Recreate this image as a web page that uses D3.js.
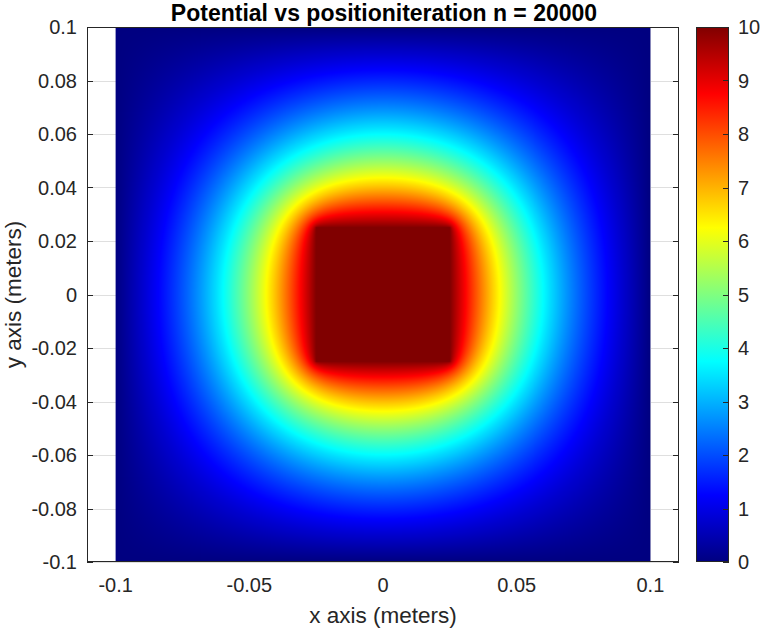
<!DOCTYPE html>
<html><head><meta charset="utf-8">
<script src="https://cdn.jsdelivr.net/npm/d3@7"></script>
<style>
body{margin:0;background:#fff}
svg{display:block}
text{font-family:"Liberation Sans",Arial,Helvetica,sans-serif;fill:#262626}
</style>
</head><body>
<svg id="chart" width="760" height="630"></svg>
<script>
// ---------- data ----------
const titleText = "Potential vs positioniteration n = 20000";
const xLabelText = "x axis (meters)";
const yLabelText = "y axis (meters)";
const xTicks = [-0.1, -0.05, 0, 0.05, 0.1];
const xTickLabels = ["-0.1", "-0.05", "0", "0.05", "0.1"];
const yTicks = [-0.1, -0.08, -0.06, -0.04, -0.02, 0, 0.02, 0.04, 0.06, 0.08, 0.1];
const yTickLabels = ["-0.1", "-0.08", "-0.06", "-0.04", "-0.02", "0", "0.02", "0.04", "0.06", "0.08", "0.1"];
const colorTicks = [0, 1, 2, 3, 4, 5, 6, 7, 8, 9, 10];
const colorTickLabels = ["0", "1", "2", "3", "4", "5", "6", "7", "8", "9", "10"];
const gridHalf = 0.1;        // simulated region is [-0.1, 0.1] in x and y (meters)
const plateHalf = 0.025;     // square conductor half-width (meters)
const plateV = 10;           // conductor potential
const wallV = 0;             // outer wall potential
const gridStep = 0.0005;     // mesh spacing (meters)
const iterations = 20000;    // Jacobi iterations (from the title)
const colorDomain = [0, 10];
const jetStops = [0, 1.25, 3.75, 6.25, 8.75, 10];
const jetColors = ["#000080", "#0000ff", "#00ffff", "#ffff00", "#ff0000", "#800000"];

// ---------- Jacobi relaxation of Laplace's equation (one symmetric quadrant) ----------
const M = Math.round(gridHalf / gridStep);
const P = Math.round(plateHalf / gridStep);
const S = M + 1;
let A = new Float64Array(S * S), B = new Float64Array(S * S);
for (let j = 0; j <= M; j++) for (let i = 0; i <= M; i++) {
  const k = j * S + i;
  let v = 0;
  if (i === M || j === M) v = wallV;
  else if (i <= P && j <= P) v = plateV;
  A[k] = v; B[k] = v;
}
for (let it = 0; it < iterations; it++) {
  for (let j = 0; j < M; j++) {
    const i0 = j <= P ? P + 1 : 0;
    const row = j * S;
    for (let i = i0; i < M; i++) {
      const k = row + i;
      const l = i > 0 ? A[k - 1] : A[k + 1];
      const d = j > 0 ? A[k - S] : A[k + S];
      B[k] = 0.25 * (l + A[k + 1] + d + A[k + S]);
    }
  }
  const t = A; A = B; B = t;
}
const Vq = A;
const field = (gi, gj) => Vq[Math.abs(gj - M) * S + Math.abs(gi - M)];
const N = 2 * M; // global index range 0..N

// ---------- layout ----------
const svg = d3.select("#chart");
const box = {left: 87, right: 679, top: 27, bottom: 562};
const xHalf = 0.1107;
const x = d3.scaleLinear().domain([-xHalf, xHalf]).range([box.left, box.right]);
const y = d3.scaleLinear().domain([-0.1, 0.1]).range([box.bottom, box.top]);
const jet = d3.scaleLinear().domain(jetStops).range(jetColors).interpolate(d3.interpolateRgb).clamp(true);
const cbar = {left: 696, right: 729};
const cy = d3.scaleLinear().domain(colorDomain).range([box.bottom, box.top]);
const axisColor = "#262626";
const gridColor = "#dfdfdf";

// grid lines (behind the image)
const gridG = svg.append("g");
yTicks.forEach(t => gridG.append("line")
  .attr("x1", box.left).attr("x2", box.right)
  .attr("y1", Math.round(y(t)) + 0.5).attr("y2", Math.round(y(t)) + 0.5)
  .attr("stroke", gridColor).attr("stroke-width", 1));
xTicks.forEach(t => gridG.append("line")
  .attr("y1", box.top).attr("y2", box.bottom)
  .attr("x1", Math.round(x(t)) + 0.5).attr("x2", Math.round(x(t)) + 0.5)
  .attr("stroke", gridColor).attr("stroke-width", 1));

// heat map image
const ix0 = x(-gridHalf), ix1 = x(gridHalf);
const iy0 = y(gridHalf), iy1 = y(-gridHalf);
const W = Math.round(ix1 - ix0), H = Math.round(iy1 - iy0);
const cv = document.createElement("canvas");
cv.width = W; cv.height = H;
const ctx = cv.getContext("2d");
const img = ctx.createImageData(W, H);
const LUT = 1024;
const lut = [];
for (let i = 0; i < LUT; i++) {
  const c = d3.color(jet(colorDomain[0] + (colorDomain[1] - colorDomain[0]) * i / (LUT - 1))).rgb();
  lut.push([Math.round(c.r), Math.round(c.g), Math.round(c.b)]);
}
for (let py = 0; py < H; py++) {
  const yy = y.invert(iy0 + (py + 0.5) * (iy1 - iy0) / H);
  let gy = (yy + gridHalf) / gridStep;
  gy = Math.max(0, Math.min(N - 1e-6, gy));
  const j0 = Math.floor(gy), fy = gy - j0;
  for (let px = 0; px < W; px++) {
    const xx = x.invert(ix0 + (px + 0.5) * (ix1 - ix0) / W);
    let gx = (xx + gridHalf) / gridStep;
    gx = Math.max(0, Math.min(N - 1e-6, gx));
    const i0 = Math.floor(gx), fx = gx - i0;
    const v = (field(i0, j0) * (1 - fx) + field(i0 + 1, j0) * fx) * (1 - fy) +
              (field(i0, j0 + 1) * (1 - fx) + field(i0 + 1, j0 + 1) * fx) * fy;
    let li = Math.round((v - colorDomain[0]) / (colorDomain[1] - colorDomain[0]) * (LUT - 1));
    li = Math.max(0, Math.min(LUT - 1, li));
    const c = lut[li], o = (py * W + px) * 4;
    img.data[o] = c[0]; img.data[o + 1] = c[1]; img.data[o + 2] = c[2]; img.data[o + 3] = 255;
  }
}
ctx.putImageData(img, 0, 0);
svg.append("image")
  .attr("x", ix0).attr("y", iy0).attr("width", ix1 - ix0).attr("height", iy1 - iy0)
  .attr("preserveAspectRatio", "none")
  .attr("href", cv.toDataURL());

// axes box
svg.append("rect")
  .attr("x", box.left + 0.5).attr("y", box.top + 0.5)
  .attr("width", box.right - box.left - 1).attr("height", box.bottom - box.top - 1)
  .attr("fill", "none").attr("stroke", axisColor).attr("stroke-width", 1);

// ticks on left and right (inward)
const tl = 6;
const tickG = svg.append("g").attr("stroke", axisColor).attr("stroke-width", 1);
yTicks.forEach(t => {
  const yy = Math.round(y(t)) + 0.5;
  tickG.append("line").attr("x1", box.left).attr("x2", box.left + tl).attr("y1", yy).attr("y2", yy);
  tickG.append("line").attr("x1", box.right).attr("x2", box.right - tl).attr("y1", yy).attr("y2", yy);
});

// tick labels
svg.append("g").selectAll("text").data(yTicks).join("text")
  .attr("x", 77).attr("y", d => y(d)).attr("dy", "0.35em")
  .attr("text-anchor", "end").attr("font-size", 20)
  .text((d, i) => yTickLabels[i]);
svg.append("g").selectAll("text").data(xTicks).join("text")
  .attr("x", d => x(d)).attr("y", 592)
  .attr("text-anchor", "middle").attr("font-size", 20)
  .text((d, i) => xTickLabels[i]);

// axis labels and title
svg.append("text").attr("x", 383).attr("y", 623)
  .attr("text-anchor", "middle").attr("font-size", 22.5).text(xLabelText);
svg.append("text").attr("transform", `translate(21,${(box.top + box.bottom) / 2}) rotate(-90)`)
  .attr("text-anchor", "middle").attr("font-size", 22.5).text(yLabelText);
svg.append("text").attr("x", 384).attr("y", 21)
  .attr("text-anchor", "middle").attr("font-size", 23).attr("font-weight", "bold")
  .style("fill", "#000").text(titleText);

// colorbar
const defs = svg.append("defs");
const grad = defs.append("linearGradient").attr("id", "jetgrad")
  .attr("x1", 0).attr("y1", 1).attr("x2", 0).attr("y2", 0);
jetStops.forEach((s, i) => grad.append("stop")
  .attr("offset", (s - colorDomain[0]) / (colorDomain[1] - colorDomain[0]))
  .attr("stop-color", jetColors[i]));
svg.append("rect").attr("x", cbar.left).attr("y", box.top)
  .attr("width", cbar.right - cbar.left).attr("height", box.bottom - box.top)
  .attr("fill", "url(#jetgrad)");
svg.append("rect").attr("x", cbar.left + 0.5).attr("y", box.top + 0.5)
  .attr("width", cbar.right - cbar.left - 1).attr("height", box.bottom - box.top - 1)
  .attr("fill", "none").attr("stroke", axisColor).attr("stroke-width", 1);
colorTicks.forEach(t => {
  const yy = Math.round(cy(t)) + 0.5;
  svg.append("line").attr("x1", cbar.right - 6).attr("x2", cbar.right).attr("y1", yy).attr("y2", yy)
    .attr("stroke", axisColor).attr("stroke-width", 1);
});
svg.append("g").selectAll("text").data(colorTicks).join("text")
  .attr("x", 738).attr("y", d => cy(d)).attr("dy", "0.35em")
  .attr("text-anchor", "start").attr("font-size", 20)
  .text((d, i) => colorTickLabels[i]);
</script>
</body></html>
